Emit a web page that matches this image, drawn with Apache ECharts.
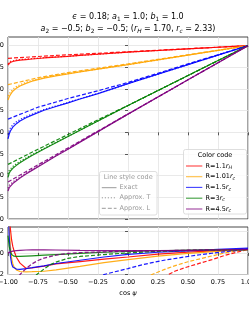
<!DOCTYPE html>
<html><head><meta charset="utf-8">
<script src="https://cdn.jsdelivr.net/npm/echarts@6/dist/echarts.min.js"></script>
<style>html,body{margin:0;padding:0;background:#fff}#c{width:249px;height:310px}</style>
</head><body><div id="c"></div>
<script>
// ---------- data ----------
const seriesNames = ['R=1.1r_H', 'R=1.01r_c', 'R=1.5r_c', 'R=3r_c', 'R=4.5r_c'];
const colors = ['#ff0000', '#ffa500', '#0000ff', '#008000', '#800080'];

// main panel: x = cos psi
const xMain = [-1, -0.99, -0.98, -0.96, -0.93, -0.9, -0.85, -0.8, -0.7, -0.6, -0.5, -0.4, -0.25, 0, 0.25, 0.5, 0.75, 1];
const exactR1 = [0.777, 0.797, 0.808, 0.817, 0.827, 0.834, 0.840, 0.846, 0.858, 0.868, 0.877, 0.887, 0.901, 0.925, 0.944, 0.963, 0.982, 1];
const exactR2 = [0.373, 0.41, 0.435, 0.475, 0.51, 0.535, 0.565, 0.59, 0.625, 0.652, 0.675, 0.697, 0.729, 0.781, 0.836, 0.891, 0.945, 1];
const exactR3 = [-0.075, -0.02, 0.015, 0.06, 0.10, 0.13, 0.168, 0.198, 0.255, 0.298, 0.34, 0.385, 0.447, 0.562, 0.672, 0.781, 0.891, 1];
const exactR4 = [-0.52, -0.471, -0.446, -0.415, -0.381, -0.351, -0.308, -0.268, -0.193, -0.12, -0.049, 0.023, 0.131, 0.309, 0.483, 0.656, 0.829, 1];
const exactR5 = [-0.676, -0.639, -0.619, -0.591, -0.558, -0.528, -0.482, -0.439, -0.356, -0.274, -0.194, -0.113, 0.008, 0.21, 0.408, 0.606, 0.803, 1];

const approxT_R1 = [0.79, 0.808, 0.818, 0.826, 0.834, 0.84, 0.845, 0.85, 0.861, 0.87, 0.878, 0.888, 0.901, 0.925, 0.944, 0.963, 0.982, 1];
const approxT_R2 = [0.42, 0.445, 0.465, 0.497, 0.528, 0.55, 0.577, 0.60, 0.632, 0.657, 0.678, 0.699, 0.73, 0.781, 0.836, 0.891, 0.945, 1];
const approxT_R3 = [-0.025, 0.02, 0.05, 0.088, 0.122, 0.148, 0.182, 0.209, 0.263, 0.304, 0.344, 0.388, 0.448, 0.562, 0.672, 0.781, 0.891, 1];
const approxT_R4 = [-0.48, -0.439, -0.418, -0.393, -0.363, -0.336, -0.296, -0.258, -0.186, -0.115, -0.046, 0.025, 0.132, 0.309, 0.483, 0.656, 0.829, 1];
const approxT_R5 = [-0.646, -0.614, -0.597, -0.573, -0.543, -0.516, -0.472, -0.431, -0.35, -0.27, -0.191, -0.111, 0.009, 0.21, 0.408, 0.606, 0.803, 1];

const xApproxL = [-1, -0.75, -0.5, -0.25, 0, 0.5, 1];
const approxL_R1 = [0.854, 0.875, 0.895, 0.912, 0.93, 0.965, 1];
const approxL_R2 = [0.55, 0.63, 0.69, 0.74, 0.79, 0.895, 1];
const approxL_R3 = [0.153, 0.29, 0.39, 0.48, 0.575, 0.79, 1];
const approxL_R4 = [-0.37, -0.195, -0.025, 0.145, 0.31, 0.655, 1];
const approxL_R5 = [-0.572, -0.375, -0.18, 0.016, 0.212, 0.606, 1];

// lower panel
const xLow = [-1, -0.99, -0.98, -0.97, -0.96, -0.95, -0.93, -0.9, -0.85, -0.8, -0.7, -0.6, -0.4, -0.2, 0, 0.25, 0.5, 0.75, 1];
const lowT_R1 = [6, 3.5, 2.2, 1.2, 0.6, 0.2, -0.4, -0.95, -1.42, -1.4, -1.22, -1.02, -0.8, -0.58, -0.38, -0.12, 0.08, 0.22, 0.35];
const lowT_R2 = [6, 2.5, 0.6, -0.5, -1.0, -1.3, -1.58, -1.72, -1.75, -1.74, -1.7, -1.58, -1.25, -0.9, -0.62, -0.3, -0.05, 0.15, 0.3];
const lowT_R3 = [5, 1.5, -0.3, -1.0, -1.3, -1.42, -1.5, -1.52, -1.45, -1.37, -1.2, -0.98, -0.68, -0.38, -0.13, 0.06, 0.19, 0.32, 0.45];
const lowT_R4 = [1.6, 0.6, 0.1, -0.15, -0.25, -0.3, -0.33, -0.33, -0.3, -0.27, -0.21, -0.15, -0.04, 0.06, 0.13, 0.2, 0.25, 0.28, 0.3];
const lowT_R5 = [0.0, 0.05, 0.1, 0.13, 0.16, 0.18, 0.21, 0.24, 0.27, 0.28, 0.28, 0.27, 0.24, 0.22, 0.21, 0.22, 0.24, 0.27, 0.3];

const lowLx_R1 = [0.3, 0.336, 0.4, 0.5, 0.6, 0.7, 0.8, 0.9, 1];
const lowL_R1 = [-2.3, -2.0, -1.65, -1.28, -0.95, -0.62, -0.25, 0.05, 0.33];
const lowLx_R2 = [0.15, 0.2, 0.3, 0.4, 0.5, 0.6, 0.7, 0.8, 0.9, 1];
const lowL_R2 = [-2.4, -2.0, -1.55, -1.15, -0.82, -0.55, -0.28, -0.02, 0.18, 0.35];
const lowLx_R3 = [-0.25, -0.2, -0.1, 0, 0.1, 0.2, 0.3, 0.4, 0.5, 0.6, 0.7, 0.8, 0.9, 1];
const lowL_R3 = [-2.3, -2.0, -1.72, -1.45, -1.15, -0.9, -0.68, -0.5, -0.33, -0.17, -0.03, 0.1, 0.22, 0.38];
const lowLx_R4 = [-0.8, -0.76, -0.7, -0.65, -0.6, -0.5, -0.4, -0.2, 0, 0.25, 0.5, 0.75, 1];
const lowL_R4 = [-2.5, -2.0, -1.5, -1.1, -0.85, -0.5, -0.33, -0.15, 0.0, 0.15, 0.22, 0.27, 0.3];
const lowLx_R5 = [-0.93, -0.9, -0.85, -0.8, -0.75, -0.7, -0.6, -0.5, -0.4, -0.2, 0, 0.5, 1];
const lowL_R5 = [-2.6, -2.0, -1.45, -1.02, -0.7, -0.48, -0.2, -0.05, 0.03, 0.1, 0.15, 0.25, 0.33];

const mainYTicks = [-1, -0.75, -0.5, -0.25, 0, 0.25, 0.5, 0.75, 1];
const lowYTicks = [-2, 0, 2];
const xTicks = [-1, -0.75, -0.5, -0.25, 0, 0.25, 0.5, 0.75, 1];

// ---------- chart ----------
const FONT = 'DejaVu Sans';
const zip = (xs, ys) => xs.map((x, i) => [x, ys[i]]);
const DOT = [1.2, 1.8], DASH = [4, 2];

const exact = [exactR1, exactR2, exactR3, exactR4, exactR5];
const apT = [approxT_R1, approxT_R2, approxT_R3, approxT_R4, approxT_R5];
const apL = [approxL_R1, approxL_R2, approxL_R3, approxL_R4, approxL_R5];
const lowT = [lowT_R1, lowT_R2, lowT_R3, lowT_R4, lowT_R5];
const lowLx = [lowLx_R1, lowLx_R2, lowLx_R3, lowLx_R4, lowLx_R5];
const lowL = [lowL_R1, lowL_R2, lowL_R3, lowL_R4, lowL_R5];

const series = [];
function line(data, color, type, xi, yi) {
  series.push({
    type: 'line', data, xAxisIndex: xi, yAxisIndex: yi, showSymbol: false, symbol: 'none',
    clip: true, silent: true, animation: false,
    lineStyle: { color, width: 1.2, type, opacity: 0.9 }
  });
}
for (let i = 0; i < 5; i++) {
  line(zip(xMain, exact[i]), colors[i], 'solid', 0, 0);
  line(zip(xMain, apT[i]), colors[i], DOT, 0, 0);
  line(zip(xApproxL, apL[i]), colors[i], DASH, 0, 0);
}
for (let i = 0; i < 5; i++) {
  line(zip(xLow, lowT[i]), colors[i], 'solid', 1, 1);
  line(zip(lowLx[i], lowL[i]), colors[i], DASH, 1, 1);
}

const fmtNum = (v, d) => v.toFixed(d).replace('-', '\u2212');
const axisCommon = {
  axisLine: { show: false },
  axisTick: { show: true, inside: false, length: 3, lineStyle: { color: '#333', width: 0.8 } },
  splitLine: { show: true, lineStyle: { color: '#e3e3e3', width: 0.8 } }
};

const rich = {
  n: { fontFamily: FONT, fontSize: 6.5, lineHeight: 9 },
  i: { fontStyle: 'italic', fontFamily: FONT, fontSize: 6.5, lineHeight: 9 },
  s: { fontStyle: 'italic', fontFamily: FONT, fontSize: 4.8, lineHeight: 4, verticalAlign: 'bottom' }
};
const richT = {
  i: { fontStyle: 'italic', fontFamily: FONT, fontSize: 8, lineHeight: 11 },
  n: { fontFamily: FONT, fontSize: 8, lineHeight: 11 },
  s: { fontStyle: 'italic', fontFamily: FONT, fontSize: 5.8, lineHeight: 5, verticalAlign: 'bottom' },
  sn: { fontFamily: FONT, fontSize: 5.8, lineHeight: 5, verticalAlign: 'bottom' }
};

const graphic = [];
function txt(x, y, text, opts) {
  graphic.push({ type: 'text', x, y, silent: true, z: 100, style: Object.assign({
    text, fontFamily: FONT, fontSize: 6.5, fill: '#000', align: 'left', verticalAlign: 'middle', rich
  }, opts || {}) });
}
// title
txt(128, 17, '{i|ϵ}{n| = 0.18; }{i|a}{sn|1}{n| = 1.0; }{i|b}{sn|1}{n| = 1.0}', { align: 'center', rich: richT, fontSize: 8 });
txt(128, 29, '{i|a}{sn|2}{n| = \u22120.5; }{i|b}{sn|2}{n| = \u22120.5; (}{i|r}{s|H}{n| = 1.70, }{i|r}{s|c}{n| = 2.33)}', { align: 'center', rich: richT, fontSize: 8 });
// x axis name
txt(128, 293, '{n|cos }{i|ψ}', { align: 'center' });

// legend: line style code
graphic.push({ type: 'rect', silent: true, z: 90, shape: { x: 99.5, y: 171.5, width: 57.5, height: 43.5, r: 2 },
  style: { fill: 'rgba(255,255,255,0.8)', stroke: '#d6d6d6', lineWidth: 0.8 } });
txt(128.2, 177, 'Line style code', { align: 'center', fill: '#999' });
const lsTypes = ['solid', DOT, DASH], lsNames = ['Exact', 'Approx. T', 'Approx. L'], lsY = [187.7, 197.8, 208.3];
for (let k = 0; k < 3; k++) {
  graphic.push({ type: 'line', silent: true, z: 100, shape: { x1: 101.8, y1: lsY[k], x2: 116.5, y2: lsY[k] },
    style: { stroke: '#9a9a9a', lineWidth: 1, lineDash: lsTypes[k] === 'solid' ? null : lsTypes[k] } });
  txt(119.5, lsY[k], lsNames[k], { fill: '#999' });
}
// legend: color code
graphic.push({ type: 'rect', silent: true, z: 90, shape: { x: 183.5, y: 149.5, width: 63, height: 64.5, r: 2 },
  style: { fill: 'rgba(255,255,255,0.8)', stroke: '#d6d6d6', lineWidth: 0.8 } });
txt(215, 155.5, 'Color code', { align: 'center' });
const ccY = [166, 176.7, 187.4, 198.2, 209];
const ccText = ['{n|R=1.1}{i|r}{s|H}', '{n|R=1.01}{i|r}{s|c}', '{n|R=1.5}{i|r}{s|c}', '{n|R=3}{i|r}{s|c}', '{n|R=4.5}{i|r}{s|c}'];
for (let k = 0; k < 5; k++) {
  graphic.push({ type: 'line', silent: true, z: 100, shape: { x1: 186, y1: ccY[k], x2: 202.3, y2: ccY[k] },
    style: { stroke: colors[k], lineWidth: 1.1, opacity: 0.75 } });
  txt(205.5, ccY[k], ccText[k]);
}

const option = {
  animation: false,
  backgroundColor: '#fff',
  grid: [
    { left: 8, right: 1, top: 37, height: 182, show: true, borderColor: '#333', borderWidth: 0.9,
      backgroundColor: 'transparent', containLabel: false, outerBoundsMode: 'none' },
    { left: 8, right: 1, top: 227, height: 47.5, show: true, borderColor: '#333', borderWidth: 0.9,
      backgroundColor: 'transparent', containLabel: false, outerBoundsMode: 'none' }
  ],
  xAxis: [
    Object.assign({}, axisCommon, { type: 'value', gridIndex: 0, min: -1, max: 1, interval: 0.25,
      axisLabel: { show: false } }),
    Object.assign({}, axisCommon, { type: 'value', gridIndex: 1, min: -1, max: 1, interval: 0.25,
      axisLabel: { show: true, fontFamily: FONT, fontSize: 6.5, color: '#000', margin: 4, hideOverlap: false,
        formatter: v => fmtNum(v, 2) } })
  ],
  yAxis: [
    Object.assign({}, axisCommon, { type: 'value', gridIndex: 0, min: -1, max: 1.1, interval: 0.25,
      axisTick: { show: true, length: 3, lineStyle: { color: '#333', width: 0.8 }, customValues: mainYTicks },
      axisLabel: { show: true, fontFamily: FONT, fontSize: 6.5, color: '#000', margin: 4, customValues: mainYTicks,
        formatter: v => fmtNum(v, 2) } }),
    Object.assign({}, axisCommon, { type: 'value', gridIndex: 1, min: -2, max: 2.4, interval: 2,
      axisTick: { show: true, length: 3, lineStyle: { color: '#333', width: 0.8 }, customValues: lowYTicks },
      axisLabel: { show: true, fontFamily: FONT, fontSize: 6.5, color: '#000', margin: 4, customValues: lowYTicks,
        formatter: v => fmtNum(v, 0) } })
  ],
  series,
  graphic
};
const chart = echarts.init(document.getElementById('c'), null, { renderer: 'canvas', width: 249, height: 310 });
chart.setOption(option);
</script></body></html>
